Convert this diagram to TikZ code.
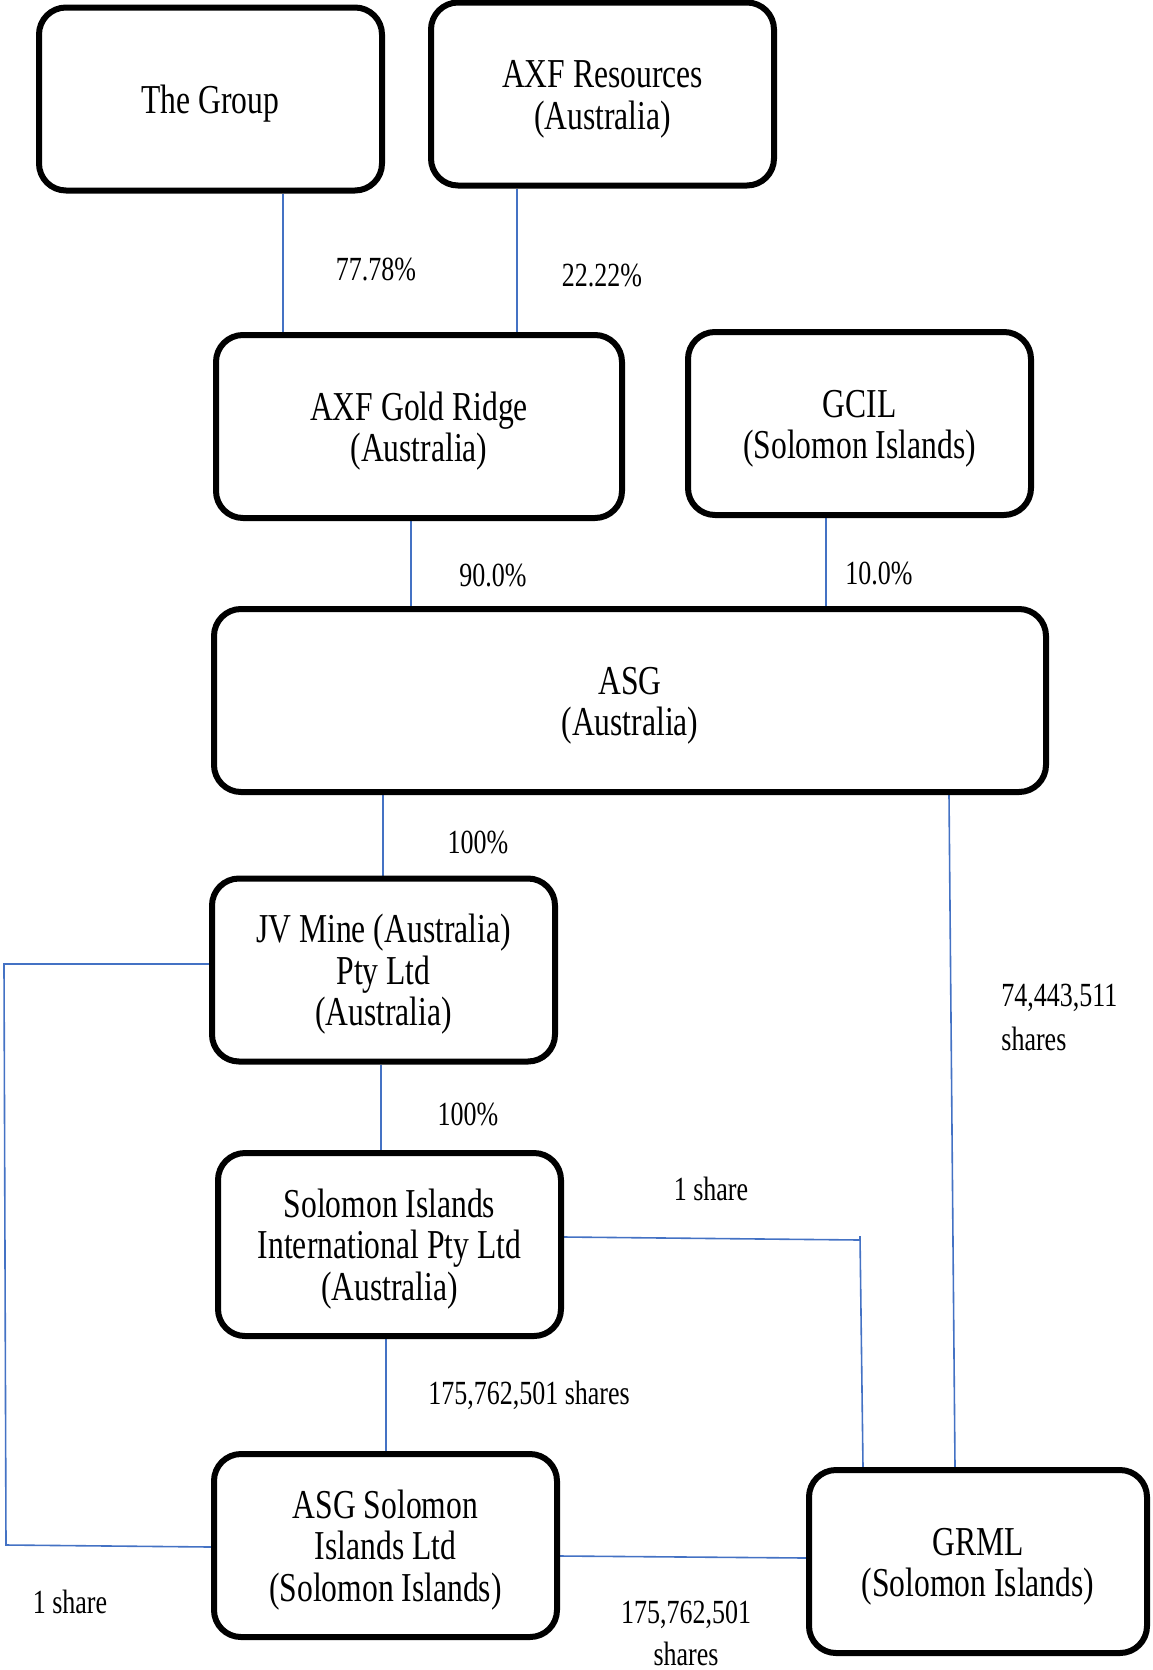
\documentclass[tikz,border=0pt]{standalone}
\usepackage{fontspec}
\setmainfont{Liberation Serif}
\usepackage{graphicx}
\usetikzlibrary{backgrounds}
\definecolor{linkblue}{HTML}{4472C4}
\newcommand\boxtxt[1]{\raisebox{-3pt}[\height][\depth]{\scalebox{1}[1.3]{\fontsize{15.8}{16}\selectfont\begin{tabular}{@{}c@{}}#1\end{tabular}}}}
\newcommand\lbltxt[1]{\scalebox{1}[1.3]{\fontsize{13}{13}\selectfont #1}}
\begin{document}
\begin{tikzpicture}[x=0.5pt,y=-0.5pt,
  orgbox/.style={draw=black,line width=3pt,rounded corners=13.5pt,fill=white,
    inner sep=0pt,minimum width=171.5pt,minimum height=91.5pt},
  link/.style={draw=linkblue,line width=0.8pt},
  lbl/.style={inner sep=0pt}]
\useasboundingbox (0,0) rectangle (1152,1670);
% boxes
\node[orgbox] (grp) at (210.5,99) {\boxtxt{The Group}};
\node[orgbox] (axfr) at (602.5,94) {\boxtxt{AXF Resources\\(Australia)}};
\node[orgbox,minimum width=203pt] (axfgr) at (419,426.5) {\boxtxt{AXF Gold Ridge\\(Australia)}};
\node[orgbox] (gcil) at (859.5,423.5) {\boxtxt{GCIL\\(Solomon Islands)}};
\node[orgbox,minimum width=416pt] (asg) at (630,700.5) {\boxtxt{ASG\\(Australia)}};
\node[orgbox] (jv) at (383.5,970) {\boxtxt{JV Mine (Australia)\\Pty Ltd\\(Australia)}};
\node[orgbox] (sii) at (389.5,1244.5) {\boxtxt{Solomon Islands\\International Pty Ltd\\(Australia)}};
\node[orgbox] (asgsi) at (385.5,1545.5) {\boxtxt{ASG Solomon\\Islands Ltd\\(Solomon Islands)}};
\node[orgbox,minimum width=169pt] (grml) at (978,1561.5) {\boxtxt{GRML\\(Solomon Islands)}};
% connectors
\begin{scope}[on background layer]
\draw[link] (283,0 |- grp.south) -- (283,0 |- axfgr.north);
\draw[link] (517,0 |- axfr.south) -- (517,0 |- axfgr.north);
\draw[link] (411,0 |- axfgr.south) -- (411,0 |- asg.north);
\draw[link] (826,0 |- gcil.south) -- (826,0 |- asg.north);
\draw[link] (383,0 |- asg.south) -- (383,0 |- jv.north);
\draw[link] (949,0 |- asg.south) -- (955,0 |- grml.north);
\draw[link] (381,0 |- jv.south) -- (381,0 |- sii.north);
\draw[link] (386,0 |- sii.south) -- (386,0 |- asgsi.north);
\draw[link] (jv.west |- 0,964) -- (4,964) -- (6,1545) -- (asgsi.west |- 0,1547);
\draw[link] (sii.east |- 0,1237) -- (860,1240);
\coordinate (tick) at (860,1236);
\draw[link] (tick) -- (863,0 |- grml.north);
\draw[link] (asgsi.east |- 0,1556) -- (grml.west |- 0,1558);
\end{scope}
% labels
\node[lbl] (l1) at (376,269) {\lbltxt{77.78\%}};
\node[lbl] (l2) at (602,275) {\lbltxt{22.22\%}};
\node[lbl] (l3) at (493,575) {\lbltxt{90.0\%}};
\node[lbl] (l4) at (879,573) {\lbltxt{10.0\%}};
\node[lbl] (l5) at (478,842) {\lbltxt{100\%}};
\node[lbl,anchor=west] (l6) at (1001,998) {\lbltxt{74,443,511}};
\node[lbl,anchor=west] (l7) at (1001,1039) {\lbltxt{shares}};
\node[lbl] (l8) at (468,1114) {\lbltxt{100\%}};
\node[lbl] (l9) at (711,1189) {\lbltxt{1 share}};
\node[lbl] (l10) at (529,1395) {\lbltxt{175,762,501 shares}};
\node[lbl] (l11) at (70,1602) {\lbltxt{1 share}};
\node[lbl] (l12) at (686,1615) {\lbltxt{175,762,501}};
\node[lbl] (l13) at (686,1654) {\lbltxt{shares}};
\end{tikzpicture}
\end{document}
